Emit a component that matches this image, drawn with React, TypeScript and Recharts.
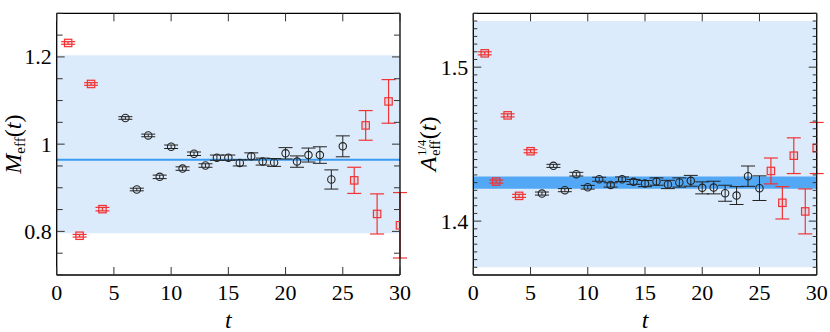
import React from 'react';
import { ScatterChart, Scatter, XAxis, YAxis, ErrorBar, ReferenceArea, ReferenceLine, Label } from 'recharts';

// ---------- data ----------
const massT = [1, 2, 3, 4, 6, 7, 8, 9, 10, 11, 12, 13, 14, 15, 16, 17, 18, 19, 20, 21, 22, 23, 24, 25, 26, 27, 28, 29, 30];
const massValues = [1.232, 0.79, 1.138, 0.851, 1.06, 0.896, 1.02, 0.925, 0.994, 0.944, 0.978, 0.951, 0.969, 0.969, 0.957, 0.972, 0.96, 0.958, 0.979, 0.96, 0.975, 0.975, 0.919, 0.995, 0.917, 1.043, 0.84, 1.098, 0.814];
const massErrors = [0.003, 0.003, 0.003, 0.004, 0.003, 0.003, 0.003, 0.004, 0.004, 0.004, 0.004, 0.004, 0.006, 0.006, 0.007, 0.008, 0.008, 0.009, 0.013, 0.013, 0.016, 0.019, 0.022, 0.024, 0.03, 0.034, 0.046, 0.05, 0.075];
const massFitWindow = [6, 25];
const massFitCentral = 0.964;
const massFitBand = [0.796, 1.204];

const ampT = [1, 2, 3, 4, 5, 6, 7, 8, 9, 10, 11, 12, 13, 14, 15, 16, 17, 18, 19, 20, 21, 22, 23, 24, 25, 26, 27, 28, 29, 30];
const ampValues = [1.509, 1.4257, 1.4687, 1.4164, 1.4454, 1.4179, 1.4359, 1.4201, 1.4305, 1.422, 1.4272, 1.4235, 1.4272, 1.4255, 1.4244, 1.4257, 1.4238, 1.4251, 1.4262, 1.4216, 1.4218, 1.4181, 1.4166, 1.4292, 1.4214, 1.4326, 1.4119, 1.4425, 1.4063, 1.4475];
const ampErrors = [0.001, 0.001, 0.001, 0.001, 0.001, 0.001, 0.001, 0.001, 0.0012, 0.0012, 0.0013, 0.0014, 0.0015, 0.0016, 0.002, 0.0024, 0.0027, 0.003, 0.0035, 0.0039, 0.0041, 0.0052, 0.0058, 0.0066, 0.008, 0.0084, 0.0105, 0.0116, 0.0146, 0.0166];
const ampFitWindow = [6, 25];
const ampFitBand = [1.421, 1.429];
const ampOuterBand = [1.37, 1.53];

const xTicks = [0, 5, 10, 15, 20, 25, 30];
const massMajorTicks = [0.8, 1, 1.2];
const ampMajorTicks = [1.4, 1.5];

// ---------- helpers ----------
const FONT = '"Liberation Serif", "Times New Roman", Times, serif';
const fontStyle = { fontFamily: FONT };
const steps = (a: number, b: number, s: number) => {
  const out: number[] = [];
  for (let i = 0; a + i * s <= b + 1e-9; i++) out.push(+(a + i * s).toFixed(4));
  return out;
};
const isMajor = (v: number, majors: number[]) => majors.some((m) => Math.abs(m - v) < 1e-6);
const fmt = (v: number) => (Math.abs(v - Math.round(v)) < 1e-9 ? String(Math.round(v)) : String(v));

const buildPoints = (ts: number[], vs: number[], es: number[]) => ts.map((t, i) => ({ t, v: vs[i], e: es[i] }));

const RED = '#f03434';
const DARK = '#222';

const CircleShape = (p: any) => (
  <circle cx={p.cx} cy={p.cy} r={3.7} fill="none" stroke={DARK} strokeWidth={1.1} />
);
const SquareShape = (p: any) => (
  <rect x={p.cx - 3.7} y={p.cy - 3.7} width={7.4} height={7.4} fill="rgba(240,52,52,0.1)" stroke={RED} strokeWidth={1.2} />
);

const bottomTick = (p: any) => {
  const { x, y, payload } = p;
  return (
    <g>
      <line x1={x} x2={x} y1={y} y2={y - 8} stroke="#333" strokeWidth={1} />
      <text x={x} y={y + 25} textAnchor="middle" style={fontStyle} fontSize={22} fill="#000">
        {fmt(payload.value)}
      </text>
    </g>
  );
};
const topTick = (p: any) => {
  const { x, y } = p;
  return <line x1={x} x2={x} y1={y} y2={y + 8} stroke="#333" strokeWidth={1} />;
};
const makeLeftTick = (majors: number[], majorLen: number, minorLen: number) => (p: any) => {
  const { x, y, payload } = p;
  const major = isMajor(payload.value, majors);
  return (
    <g>
      <line x1={x} x2={x + (major ? majorLen : minorLen)} y1={y} y2={y} stroke="#333" strokeWidth={1} />
      {major && (
        <text x={x - 5} y={y + 7.5} textAnchor="end" style={fontStyle} fontSize={22} fill="#000">
          {fmt(payload.value)}
        </text>
      )}
    </g>
  );
};
const makeRightTick = (majors: number[], majorLen: number, minorLen: number) => (p: any) => {
  const { x, y, payload } = p;
  const major = isMajor(payload.value, majors);
  return <line x1={x} x2={x - (major ? majorLen : minorLen)} y1={y} y2={y} stroke="#333" strokeWidth={1} />;
};

const xLabel = (p: any) => {
  const vb = p.viewBox;
  return (
    <text x={vb.x + vb.width / 2} y={vb.y + 53} textAnchor="middle" style={fontStyle} fontStyle="italic" fontSize={24} fill="#000">
      t
    </text>
  );
};

const massLabel = (p: any) => {
  const vb = p.viewBox;
  const cy = vb.y + vb.height / 2;
  return (
    <g transform={`translate(21, ${cy}) rotate(-90)`}>
      <text x={0} y={0} textAnchor="middle" style={fontStyle} fontSize={24} fill="#000">
        <tspan fontStyle="italic">M</tspan>
        <tspan fontSize={15} dy={4}>eff</tspan>
        <tspan dy={-4}>(</tspan>
        <tspan fontStyle="italic">t</tspan>
        <tspan>)</tspan>
      </text>
    </g>
  );
};

const ampLabel = (p: any) => {
  const vb = p.viewBox;
  const cy = vb.y + vb.height / 2;
  return (
    <g transform={`translate(21, ${cy}) rotate(-90)`} style={fontStyle} fill="#000">
      <text x={-27} y={0} fontSize={24} fontStyle="italic">A</text>
      <text x={-11.5} y={4} fontSize={14}>eff</text>
      <text x={-11.5} y={-10} fontSize={12.5}>1/4</text>
      <text x={5} y={0} fontSize={24}>
        (<tspan fontStyle="italic">t</tspan>)
      </text>
    </g>
  );
};

interface PanelProps {
  left: number;
  yAxisWidth: number;
  rightMargin: number;
  domain: [number, number];
  yTicks: number[];
  majors: number[];
  majorLen: number;
  minorLen: number;
  points: { t: number; v: number; e: number }[];
  fitWindow: number[];
  label: (p: any) => any;
  children?: React.ReactNode;
}

const Panel = (props: PanelProps) => {
  const inFit = props.points.filter((d) => d.t >= props.fitWindow[0] && d.t <= props.fitWindow[1]);
  const outFit = props.points.filter((d) => d.t < props.fitWindow[0] || d.t > props.fitWindow[1]);
  const axisLine = { stroke: '#000', strokeWidth: 1.3 };
  return (
    <div style={{ position: 'absolute', left: props.left, top: 0 }}>
      <ScatterChart width={415} height={332} margin={{ top: 12.3, right: props.rightMargin, bottom: 0, left: 0 }}>
        <XAxis
          xAxisId="b"
          dataKey="t"
          type="number"
          domain={[0, 30]}
          ticks={xTicks}
          interval={0}
          allowDataOverflow
          tickSize={0}
          tickMargin={0}
          tickLine={false}
          tick={bottomTick}
          height={57}
          axisLine={axisLine}
        >
          <Label content={xLabel} />
        </XAxis>
        <XAxis
          xAxisId="t"
          orientation="top"
          dataKey="t"
          type="number"
          domain={[0, 30]}
          ticks={xTicks}
          interval={0}
          allowDataOverflow
          tickSize={0}
          tickMargin={0}
          tickLine={false}
          tick={topTick}
          height={1}
          axisLine={axisLine}
        />
        <YAxis
          yAxisId="l"
          dataKey="v"
          type="number"
          domain={props.domain}
          ticks={props.yTicks}
          interval={0}
          allowDataOverflow
          tickSize={0}
          tickMargin={0}
          tickLine={false}
          tick={makeLeftTick(props.majors, props.majorLen, props.minorLen)}
          width={props.yAxisWidth}
          axisLine={axisLine}
        >
          <Label content={props.label} />
        </YAxis>
        <YAxis
          yAxisId="r"
          orientation="right"
          dataKey="v"
          type="number"
          domain={props.domain}
          ticks={props.yTicks}
          interval={0}
          allowDataOverflow
          tickSize={0}
          tickMargin={0}
          tickLine={false}
          tick={makeRightTick(props.majors, props.majorLen, props.minorLen)}
          width={1}
          axisLine={axisLine}
        />
        {props.children}
        <Scatter xAxisId="b" yAxisId="l" data={inFit} dataKey="v" shape={CircleShape} isAnimationActive={false}>
          <ErrorBar dataKey="e" direction="y" width={7} stroke={DARK} strokeWidth={1} />
        </Scatter>
        <Scatter xAxisId="b" yAxisId="l" data={outFit} dataKey="v" shape={SquareShape} isAnimationActive={false}>
          <ErrorBar dataKey="e" direction="y" width={7} stroke={RED} strokeWidth={1.2} />
        </Scatter>
      </ScatterChart>
    </div>
  );
}

export default function App() {
  const massPoints = buildPoints(massT, massValues, massErrors);
  const ampPoints = buildPoints(ampT, ampValues, ampErrors);
  return (
    <div style={{ position: 'absolute', left: 0, top: 0, width: 830, height: 332, background: '#fff' }}>
      <Panel
        left={0}
        yAxisWidth={56.7}
        rightMargin={14}
        domain={[0.7, 1.3]}
        yTicks={steps(0.7, 1.3, 0.05)}
        majors={massMajorTicks}
        majorLen={8}
        minorLen={6}
        points={massPoints}
        fitWindow={massFitWindow}
        label={massLabel}
      >
        <ReferenceArea xAxisId="b" yAxisId="l" y1={massFitBand[0]} y2={massFitBand[1]} fill="#dcebfb" fillOpacity={1} stroke="none" />
        <ReferenceLine xAxisId="b" yAxisId="l" y={massFitCentral} stroke="#3b9bf0" strokeWidth={2} />
      </Panel>
      <Panel
        left={415}
        yAxisWidth={58.3}
        rightMargin={12.3}
        domain={[1.365, 1.535]}
        yTicks={steps(1.365, 1.535, 0.005)}
        majors={ampMajorTicks}
        majorLen={8}
        minorLen={4}
        points={ampPoints}
        fitWindow={ampFitWindow}
        label={ampLabel}
      >
        <ReferenceArea xAxisId="b" yAxisId="l" y1={ampOuterBand[0]} y2={ampOuterBand[1]} fill="#dcebfb" fillOpacity={1} stroke="none" />
        <ReferenceArea xAxisId="b" yAxisId="l" y1={ampFitBand[0]} y2={ampFitBand[1]} fill="#52a8f5" fillOpacity={1} stroke="none" />
      </Panel>
    </div>
  );
}
